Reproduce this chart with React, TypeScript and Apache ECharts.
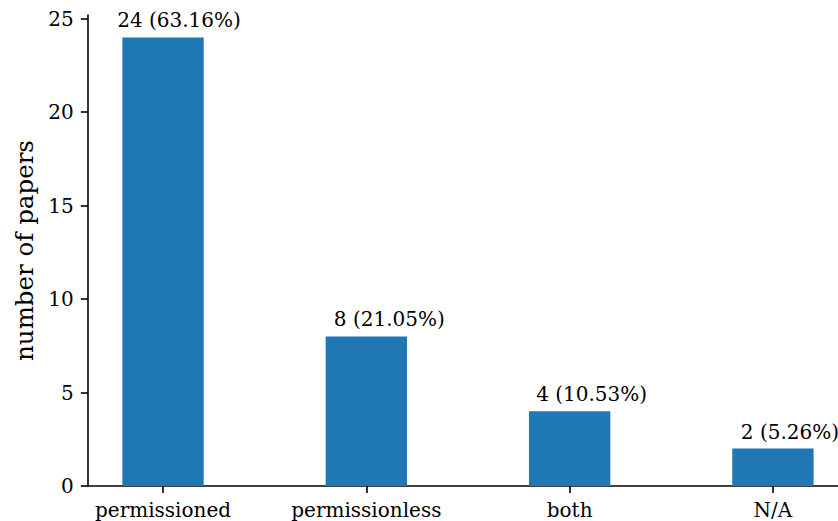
import React, { useEffect, useRef } from "react";
import * as echarts from "echarts";

const categories = ["permissioned", "permissionless", "both", "N/A"];
const paperCounts = [24, 8, 4, 2];
const yTickValues = [0, 5, 10, 15, 20, 25];
const labelOffsetX = [16, 23, 22, 17];

const FONT = "DejaVu Serif";
const W = 838;
const H = 521;
const GRID_LEFT = 87.8;
const GRID_RIGHT = 0;
const GRID_TOP = 15;
const GRID_BOTTOM = 35;
const X_MIN = -0.37;
const X_MAX = 3.32;
const Y_MAX = 25.2;

export default function App() {
  const ref = useRef<HTMLDivElement>(null);
  useEffect(() => {
    if (!ref.current) return;
    const chart = echarts.init(ref.current, null, { renderer: "svg" });
    const total = paperCounts.reduce((a, b) => a + b, 0);
    const plotW = W - GRID_LEFT - GRID_RIGHT;
    const barW = (plotW / (X_MAX - X_MIN)) * 0.4;
    const xTicks = categories.map((_, i) => i);
    chart.setOption({
      animation: false,
      backgroundColor: "#ffffff",
      textStyle: { fontFamily: FONT },
      grid: { left: GRID_LEFT, right: GRID_RIGHT, top: GRID_TOP, bottom: GRID_BOTTOM, containLabel: false },
      xAxis: {
        type: "value",
        min: X_MIN,
        max: X_MAX,
        axisLine: { show: true, onZero: false, lineStyle: { color: "#000", width: 1.6 } },
        axisTick: { show: true, length: 7, lineStyle: { color: "#000", width: 1.6 }, customValues: xTicks },
        axisLabel: {
          show: true,
          customValues: xTicks,
          margin: 14,
          color: "#000",
          fontFamily: FONT,
          fontSize: 20,
          formatter: (v: number) => categories[Math.round(v)] ?? "",
        },
        splitLine: { show: false },
      },
      yAxis: {
        type: "value",
        min: 0,
        max: Y_MAX,
        name: "number of papers",
        nameLocation: "middle",
        nameGap: 45,
        nameTextStyle: { fontFamily: FONT, fontSize: 24.5, color: "#000" },
        axisLine: { show: true, onZero: false, lineStyle: { color: "#000", width: 1.6 } },
        axisTick: { show: true, length: 7, lineStyle: { color: "#000", width: 1.6 }, customValues: yTickValues },
        axisLabel: {
          show: true,
          customValues: yTickValues,
          margin: 14,
          color: "#000",
          fontFamily: FONT,
          fontSize: 20,
        },
        splitLine: { show: false },
      },
      series: [
        {
          type: "bar",
          barWidth: barW,
          itemStyle: { color: "#1f77b4" },
          data: paperCounts.map((v, i) => ({
            value: [i, v],
            label: {
              show: true,
              position: "top",
              distance: 7,
              offset: [labelOffsetX[i], 0],
              color: "#000",
              fontFamily: FONT,
              fontSize: 20,
              formatter: () => `${v} (${((v / total) * 100).toFixed(2)}%)`,
            },
          })),
        },
      ],
    });
    return () => chart.dispose();
  }, []);
  return (
    <div
      ref={ref}
      style={{ position: "fixed", left: 0, top: 0, width: W, height: H, background: "#fff" }}
    />
  );
}
